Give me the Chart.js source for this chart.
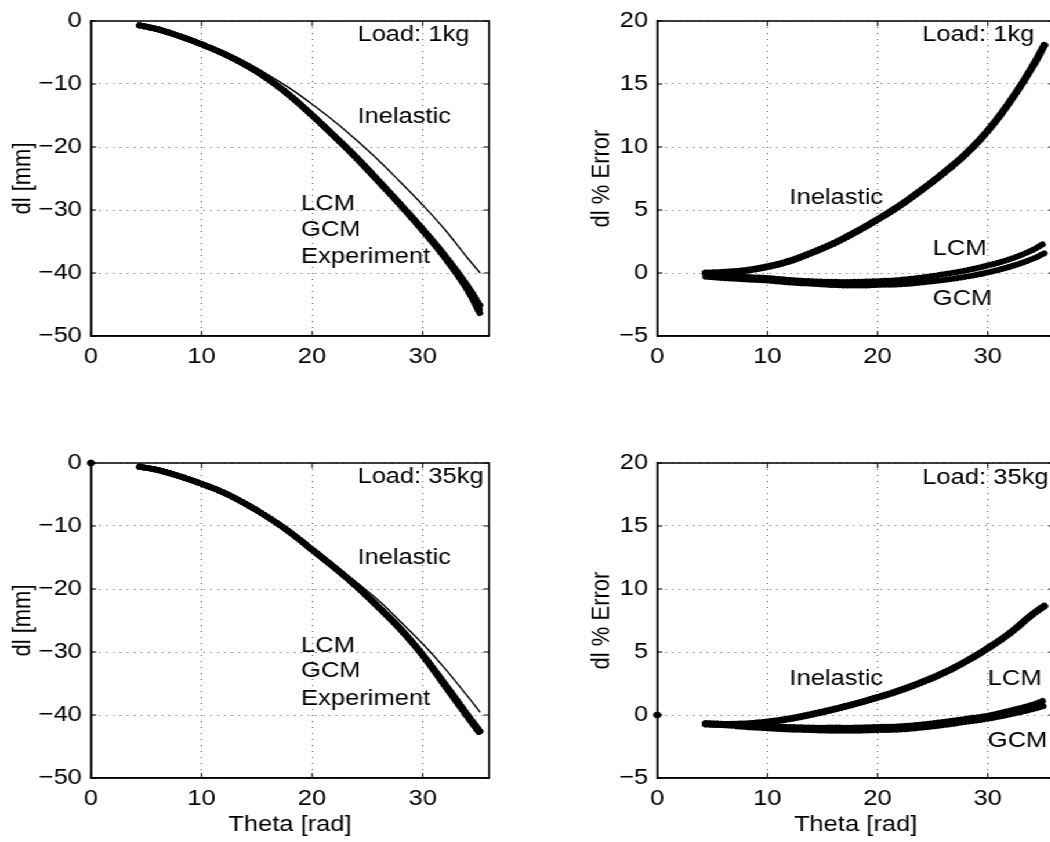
<!DOCTYPE html>
<html>
<head>
<meta charset="utf-8">
<title>dl vs Theta</title>
<script src="https://cdn.jsdelivr.net/npm/chart.js@4.4.1/dist/chart.umd.min.js"></script>
<style>
html,body{margin:0;padding:0;background:#fff;overflow:hidden}
#page{position:relative;width:1050px;height:842px;overflow:hidden;background:#fff}
/* the original figure is stretched sideways, so the whole drawing is */
#wrap{position:absolute;left:0;top:0;width:920px;height:842px;transform:scaleX(1.16);transform-origin:0 0}
canvas{position:absolute}
</style>
</head>
<body>
<div id="page"><div id="wrap">
  <canvas id="c1" width="430" height="420" style="left:0px;top:0px"></canvas>
  <canvas id="c2" width="437" height="420" style="left:480px;top:0px"></canvas>
  <canvas id="c3" width="430" height="400" style="left:0px;top:442px"></canvas>
  <canvas id="c4" width="437" height="400" style="left:480px;top:442px"></canvas>
</div></div>
<script>
// ---------- data ----------
const theta = [4.4, 6, 8, 10, 12, 14, 16, 18, 20, 22, 24, 26, 28, 30, 32, 34, 35.2];

// Load 1kg, dl [mm]
const dl1Exp  = [-0.7,-1.3,-2.4,-3.7,-5.2,-7.0,-9.2,-11.9,-15.0,-18.3,-21.8,-25.5,-29.3,-33.3,-37.6,-42.6,-46.5];
const dl1Lcm  = [-0.7,-1.3,-2.4,-3.7,-5.2,-7.0,-9.2,-11.8,-14.9,-18.2,-21.6,-25.3,-29.1,-33.0,-37.2,-41.9,-45.2];
const dl1Gcm  = [-0.7,-1.3,-2.4,-3.7,-5.2,-7.0,-9.2,-11.9,-15.0,-18.3,-21.7,-25.4,-29.2,-33.2,-37.4,-42.3,-46.0];
const dl1Inel = [-0.6,-1.2,-2.2,-3.4,-4.8,-6.5,-8.5,-10.7,-13.2,-15.9,-18.9,-22.1,-25.6,-29.2,-33.1,-37.5,-40.0];

// Load 1kg, dl % error
const err1Inel = [0.0,0.05,0.2,0.5,0.95,1.6,2.35,3.25,4.25,5.35,6.6,7.95,9.45,11.3,13.6,16.3,18.2];
const err1Lcm  = [0.0,-0.1,-0.3,-0.4,-0.55,-0.65,-0.7,-0.7,-0.65,-0.55,-0.35,-0.1,0.2,0.6,1.1,1.8,2.4];
const err1Gcm  = [-0.3,-0.4,-0.5,-0.6,-0.75,-0.85,-0.95,-1.0,-0.95,-0.9,-0.75,-0.55,-0.3,0.05,0.5,1.1,1.6];

// Load 35kg, dl [mm]
const dl35Exp  = [-0.6,-1.1,-2.1,-3.3,-4.7,-6.5,-8.6,-11.0,-13.8,-16.6,-19.6,-22.9,-26.5,-30.6,-35.4,-40.2,-43.0];
const dl35Lcm  = [-0.6,-1.1,-2.1,-3.3,-4.7,-6.5,-8.6,-11.0,-13.7,-16.5,-19.5,-22.8,-26.3,-30.4,-35.0,-39.8,-42.6];
const dl35Gcm  = [-0.6,-1.1,-2.1,-3.3,-4.7,-6.5,-8.6,-11.0,-13.8,-16.6,-19.6,-22.9,-26.4,-30.5,-35.2,-40.0,-42.9];
const dl35Inel = [-0.6,-1.1,-2.1,-3.3,-4.6,-6.4,-8.4,-10.8,-13.5,-16.1,-18.9,-21.8,-25.2,-28.7,-32.6,-36.9,-39.6];
const originTheta = [0];
const originVal = [0];

// Load 35kg, dl % error
const err35Inel = [-0.7,-0.75,-0.7,-0.55,-0.3,0.05,0.45,0.9,1.4,1.95,2.6,3.35,4.25,5.3,6.5,7.95,8.7];
const err35Lcm  = [-0.65,-0.7,-0.8,-0.9,-0.95,-1.0,-1.0,-1.0,-0.95,-0.9,-0.75,-0.55,-0.3,-0.05,0.35,0.8,1.2];
const err35Gcm  = [-0.75,-0.8,-0.95,-1.05,-1.15,-1.2,-1.25,-1.25,-1.2,-1.15,-1.0,-0.8,-0.55,-0.3,0.05,0.45,0.75];

// ticks
const thetaTicks = [0, 10, 20, 30];
const dlTicks = [0, -10, -20, -30, -40, -50];
const errTicks = [20, 15, 10, 5, 0, -5];

// text labels [text, theta, value]
const textTL = [["Load: 1kg",24.1,-2.2],["Inelastic",24.1,-15.2],["LCM",19.0,-29.1],["GCM",19.0,-33.1],["Experiment",19.0,-37.5]];
const textTR = [["Load: 1kg",24.05,18.9],["Inelastic",12.0,5.95],["LCM",25.0,1.9],["GCM",25.0,-2.05]];
const textBL = [["Load: 35kg",24.1,-2.2],["Inelastic",24.1,-15.1],["LCM",19.0,-29.1],["GCM",19.0,-33.0],["Experiment",19.0,-37.4]];
const textBR = [["Load: 35kg",24.05,18.8],["Inelastic",12.0,2.85],["LCM",30.0,2.85],["GCM",30.0,-2.05]];

// ---------- helpers ----------
const FONT = "'Liberation Sans', Arial, Helvetica, sans-serif";
const FS = 22;

function pts(vals){ return theta.map((t,i)=>({x:t, y:vals[i]})); }
// dense round markers: a round-capped line with tiny dashes
function band(vals, w){
  return {data:pts(vals), borderColor:'#000', backgroundColor:'#000', borderWidth:w,
    borderDash:[0.1,3.2], pointRadius:0, tension:0.4, borderCapStyle:'round', borderJoinStyle:'round', fill:false};
}
function thin(vals){
  return {data:pts(vals), borderColor:'#000', borderWidth:1.4, pointRadius:0, tension:0.4, fill:false};
}
function origin(){
  return {data:originTheta.map((t,i)=>({x:t,y:originVal[i]})), showLine:false, clip:false,
    pointRadius:3, pointBackgroundColor:'#000', pointBorderColor:'#000'};
}

// box + inward ticks like matlab
const frame = {
  id:'frame',
  afterDraw(chart){
    const {ctx, chartArea:a, scales:{x,y}} = chart;
    ctx.save();
    ctx.strokeStyle = '#000';
    ctx.lineWidth = 1.5;
    ctx.strokeRect(a.left, a.top, a.right-a.left, a.bottom-a.top);
    ctx.lineWidth = 1;
    ctx.beginPath();
    x.ticks.forEach(t=>{
      const px = x.getPixelForValue(t.value);
      ctx.moveTo(px, a.bottom); ctx.lineTo(px, a.bottom-5);
      ctx.moveTo(px, a.top); ctx.lineTo(px, a.top+5);
    });
    y.ticks.forEach(t=>{
      const py = y.getPixelForValue(t.value);
      ctx.moveTo(a.left, py); ctx.lineTo(a.left+4.5, py);
      ctx.moveTo(a.right, py); ctx.lineTo(a.right-4.5, py);
    });
    ctx.stroke();
    ctx.restore();
  }
};

const panelText = {
  id:'panelText',
  afterDatasetsDraw(chart, args, opts){
    const {ctx, scales:{x,y}} = chart;
    ctx.save();
    ctx.font = FS+'px '+FONT;
    ctx.fillStyle = '#000';
    ctx.textAlign = 'left';
    ctx.textBaseline = 'middle';
    (opts.items||[]).forEach(([t,vx,vy])=>ctx.fillText(t, x.getPixelForValue(vx), y.getPixelForValue(vy)));
    ctx.restore();
  }
};

function makeChart(id, o){
  const gridOpts = {color:'#555', lineWidth:1, drawTicks:false};
  const borderOpts = {color:'#000', width:1.5, dash:[1,5]};
  return new Chart(document.getElementById(id), {
    type:'line',
    data:{datasets:o.datasets},
    options:{
      responsive:false, animation:false, events:[],
      layout:{padding:{top:20, right:o.padRight, left:0, bottom:0}},
      plugins:{legend:{display:false}, tooltip:{enabled:false}, panelText:{items:o.text}},
      scales:{
        x:{type:'linear', min:0, max:36,
          afterBuildTicks:s=>{ s.ticks = thetaTicks.map(v=>({value:v})); },
          afterFit:s=>{ s.height = o.xHeight; },
          ticks:{color:'#000', font:{family:FONT,size:FS}, padding:8, maxRotation:0, autoSkip:false},
          grid:gridOpts, border:borderOpts,
          title:{display:o.xTitle, text:'Theta [rad]', color:'#000', font:{family:FONT,size:FS}, padding:{top:0,bottom:4}}
        },
        y:{type:'linear', min:o.ymin, max:o.ymax,
          afterBuildTicks:s=>{ s.ticks = o.yTicks.map(v=>({value:v})); },
          afterFit:s=>{ s.width = o.yWidth; },
          ticks:{color:'#000', font:{family:FONT,size:FS}, padding:7.8, autoSkip:false,
            callback:v=>String(v).replace('-','\u2212')},
          grid:gridOpts, border:borderOpts,
          title:{display:true, text:o.yTitle, color:'#000', font:{family:FONT,size:FS}, padding:{top:o.yTitlePad,bottom:0}}
        }
      }
    },
    plugins:[frame, panelText]
  });
}

// ---------- panels ----------
makeChart('c1', {
  datasets:[thin(dl1Inel), band(dl1Lcm,6), band(dl1Gcm,6), band(dl1Exp,6)],
  ymin:-50, ymax:0, yTicks:dlTicks, yTitle:'dl [mm]', yWidth:78.4, yTitlePad:6.4,
  padRight:8.4, xHeight:84, xTitle:false, text:textTL
});
makeChart('c2', {
  datasets:[band(err1Inel,7), band(err1Lcm,6), band(err1Gcm,6)],
  ymin:-5, ymax:20, yTicks:errTicks, yTitle:'dl % Error', yWidth:86.6, yTitlePad:25.5,
  padRight:8.4, xHeight:84, xTitle:false, text:textTR
});
makeChart('c3', {
  datasets:[thin(dl35Inel), band(dl35Lcm,6), band(dl35Gcm,6), band(dl35Exp,6), origin()],
  ymin:-50, ymax:0, yTicks:dlTicks, yTitle:'dl [mm]', yWidth:78.4, yTitlePad:6.4,
  padRight:8.4, xHeight:64, xTitle:true, text:textBL
});
makeChart('c4', {
  datasets:[band(err35Inel,7), band(err35Lcm,6), band(err35Gcm,6), origin()],
  ymin:-5, ymax:20, yTicks:errTicks, yTitle:'dl % Error', yWidth:86.6, yTitlePad:25.5,
  padRight:8.4, xHeight:64, xTitle:true, text:textBR
});
</script>
</body>
</html>
